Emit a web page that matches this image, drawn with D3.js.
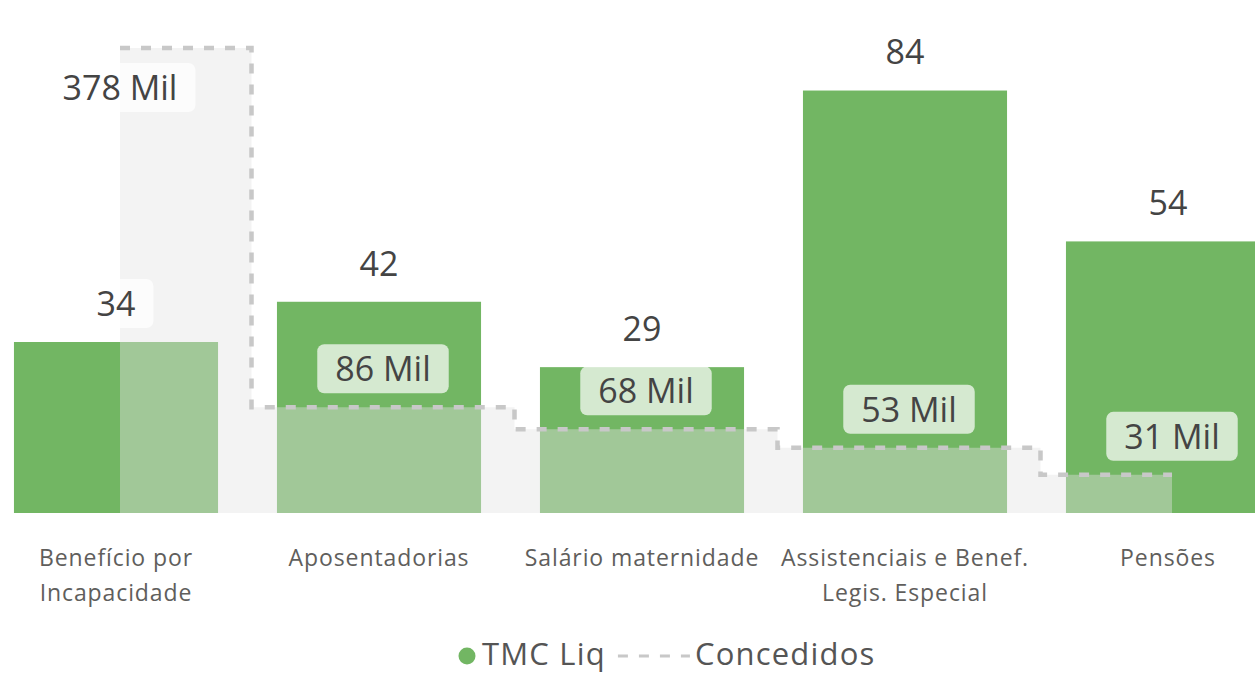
<!DOCTYPE html>
<html>
<head>
<meta charset="utf-8">
<script src="https://d3js.org/d3.v7.min.js"></script>
<style>
body { margin: 0; background: #fff; }
svg { font-family: "Open Sans", sans-serif; display: block; }
</style>
</head>
<body>
<div id="chart"></div>
<script>
// data
var categories = ["Benefício por Incapacidade", "Aposentadorias", "Salário maternidade", "Assistenciais e Benef. Legis. Especial", "Pensões"];
var tmcLiq = [34, 42, 29, 84, 54];
var concedidos = [378000, 86000, 68000, 53000, 31000];
var legendLabels = ["TMC Liq", "Concedidos"];

var width = 1255, height = 674;
var baseline = 513;
var green = "#72b663";
var dashColor = "#c8c8c8";

var svg = d3.select("#chart").append("svg")
  .attr("width", width)
  .attr("height", height);

var x = d3.scaleBand()
  .domain(categories)
  .range([-15.5, 1299.5])
  .paddingInner(0.224)
  .paddingOuter(0.112);

var yBar = d3.scaleLinear().domain([0, 102]).range([baseline, 0]);
var yArea = d3.scaleLinear().domain([0, 417000]).range([baseline, 0]);

var rows = categories.map(function(c, i) {
  return { cat: c, bar: tmcLiq[i], area: concedidos[i] };
});

// bars
svg.append("g").selectAll("rect")
  .data(rows).enter()
  .append("rect")
  .attr("x", d => x(d.cat))
  .attr("y", d => yBar(d.bar))
  .attr("width", x.bandwidth())
  .attr("height", d => baseline - yBar(d.bar))
  .attr("fill", green);

// stepped area (Concedidos)
var ax = d => x(d.cat) + x.bandwidth() / 2 + 4;

var area = d3.area()
  .curve(d3.curveStep)
  .x(ax)
  .y0(baseline)
  .y1(d => yArea(d.area));

var line = d3.line()
  .curve(d3.curveStep)
  .x(ax)
  .y(d => yArea(d.area));

svg.append("path")
  .datum(rows)
  .attr("d", area)
  .attr("fill", "#e2e2e2")
  .attr("fill-opacity", 0.42);

svg.append("path")
  .datum(rows)
  .attr("d", line)
  .attr("fill", "none")
  .attr("stroke", dashColor)
  .attr("stroke-width", 4.5)
  .attr("stroke-dasharray", "10,11");

// data labels with boxes
var labelSize = 34, boxH = 49, padX = 18;
var fmtMil = v => Math.round(v / 1000) + " Mil";

function addLabel(g, cx, topY, txt) {
  var lg = g.append("g");
  var t = lg.append("text")
    .attr("x", cx)
    .attr("y", topY + boxH / 2 + labelSize * 0.36)
    .attr("text-anchor", "middle")
    .attr("font-size", labelSize)
    .attr("fill", "#444")
    .text(txt);
  var w = t.node().getComputedTextLength() + padX * 2;
  lg.insert("rect", "text")
    .attr("x", cx - w / 2)
    .attr("y", topY)
    .attr("width", w)
    .attr("height", boxH)
    .attr("rx", 7)
    .attr("fill", "#fff")
    .attr("fill-opacity", 0.7);
}

var labels = svg.append("g");
rows.forEach(function(d) {
  var top = yBar(d.bar) - 14 - boxH;
  addLabel(labels, x(d.cat) + x.bandwidth() / 2, top, d.bar);
});
rows.forEach(function(d) {
  var top = yArea(d.area) - 14 - boxH;
  if (top < 0) top = yArea(d.area) + 15;
  addLabel(labels, ax(d), top, fmtMil(d.area));
});

// x axis labels (wrapped)
var axisSize = 23, lineH = 35;
var axisG = svg.append("g")
  .attr("font-size", axisSize)
  .attr("letter-spacing", 0.9)
  .attr("fill", "#605e5c");

rows.forEach(function(d) {
  var cx = x(d.cat) + x.bandwidth() / 2;
  var words = d.cat.split(" ");
  var t = axisG.append("text").attr("text-anchor", "middle");
  var lineNo = 0;
  var ts = t.append("tspan").attr("x", cx).attr("y", 566);
  var cur = [];
  words.forEach(function(wd) {
    cur.push(wd);
    ts.text(cur.join(" "));
    if (ts.node().getComputedTextLength() > 258 && cur.length > 1) {
      cur.pop();
      ts.text(cur.join(" "));
      cur = [wd];
      lineNo++;
      ts = t.append("tspan").attr("x", cx).attr("y", 566 + lineNo * lineH).text(wd);
    }
  });
});

// legend
var legY = 656;
var leg = svg.append("g").attr("font-size", 31).attr("letter-spacing", 1.2).attr("fill", "#555");
leg.append("circle").attr("cx", 467).attr("cy", legY).attr("r", 8.5).attr("fill", green);
var t1 = leg.append("text").attr("x", 482).attr("y", 665).text(legendLabels[0]);
var x2 = 482 + t1.node().getComputedTextLength() + 12;
leg.append("line")
  .attr("x1", x2).attr("x2", x2 + 72)
  .attr("y1", legY).attr("y2", legY)
  .attr("stroke", dashColor)
  .attr("stroke-width", 3)
  .attr("stroke-dasharray", "10,11");
leg.append("text").attr("x", x2 + 77).attr("y", 665).text(legendLabels[1]);
</script>
</body>
</html>
